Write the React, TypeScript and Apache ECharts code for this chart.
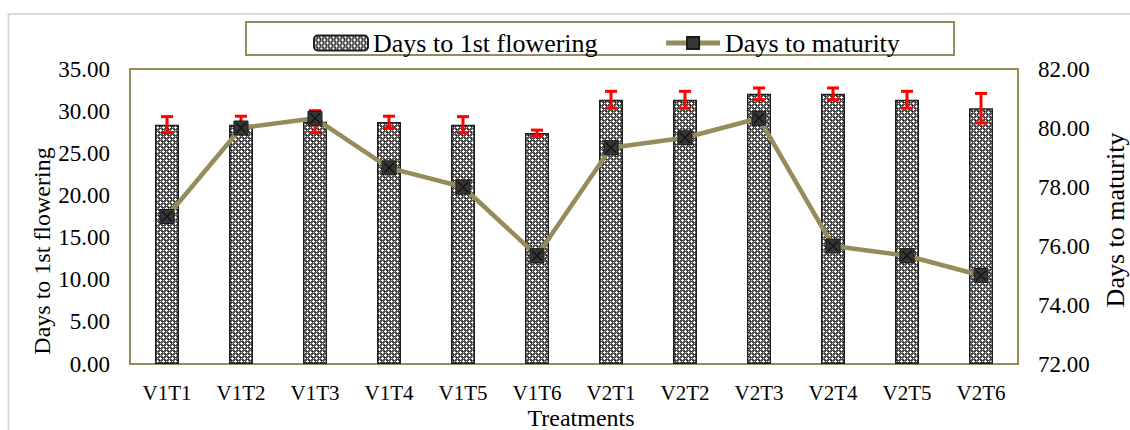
import React, { useEffect, useRef } from "react";
import * as echarts from "echarts";

const categories = ["V1T1", "V1T2", "V1T3", "V1T4", "V1T5", "V1T6", "V2T1", "V2T2", "V2T3", "V2T4", "V2T5", "V2T6"];
const floweringDays = [28.4, 28.4, 28.75, 28.7, 28.4, 27.4, 31.35, 31.35, 32.05, 32.05, 31.35, 30.35];
const floweringErr = [0.95, 1.0, 1.3, 0.7, 0.95, 0.35, 1.0, 1.0, 0.7, 0.7, 1.0, 1.75];
const maturityDays = [77.0, 80.0, 80.33, 78.65, 78.0, 75.67, 79.33, 79.67, 80.33, 76.0, 75.67, 75.0];

const OLIVE = "#958C5A";
const FONT = "Liberation Serif";

function makePattern(): HTMLCanvasElement {
  const c = document.createElement("canvas");
  c.width = 6;
  c.height = 6;
  const ctx = c.getContext("2d")!;
  ctx.fillStyle = "#505050";
  ctx.fillRect(0, 0, 6, 6);
  ctx.fillStyle = "#ffffff";
  const plus = (cx: number, cy: number) => {
    ctx.fillRect(cx, cy, 1, 1);
    ctx.fillRect(cx - 1, cy, 1, 1);
    ctx.fillRect(cx + 1, cy, 1, 1);
    ctx.fillRect(cx, cy - 1, 1, 1);
    ctx.fillRect(cx, cy + 1, 1, 1);
  };
  plus(1, 1);
  plus(4, 4);
  ctx.fillStyle = "#c8c8c8";
  ctx.fillRect(4, 1, 1, 1);
  ctx.fillRect(1, 4, 1, 1);
  ctx.fillStyle = "#1e1e1e";
  ctx.fillRect(0, 3, 1, 1);
  ctx.fillRect(3, 0, 1, 1);
  return c;
}

export default function App() {
  const ref = useRef<HTMLDivElement>(null);
  useEffect(() => {
    if (!ref.current) return;
    const chart = echarts.init(ref.current, null, { renderer: "svg" });
    const pattern = { image: makePattern(), repeat: "repeat" } as any;
    const errData = floweringDays.map((v, i) => [i, v, floweringErr[i]]);
    chart.setOption({
      animation: false,
      backgroundColor: "#ffffff",
      textStyle: { fontFamily: FONT },
      legend: {
        left: 308,
        top: 25,
        itemWidth: 54,
        itemHeight: 15,
        itemGap: 66,
        textStyle: { fontFamily: FONT, fontSize: 26, color: "#000" },
        data: [
          { name: "Days to 1st flowering" },
          { name: "Days to maturity", lineStyle: { width: 5, color: OLIVE } },
        ],
      },
      grid: {
        left: 130,
        right: 112,
        top: 69,
        bottom: 66,
        show: true,
        borderColor: OLIVE,
        borderWidth: 2,
        backgroundColor: "transparent",
      },
      xAxis: {
        type: "category",
        data: categories,
        axisLine: { show: false },
        axisTick: { show: false },
        axisLabel: { fontFamily: FONT, fontSize: 21, color: "#000", margin: 18 },
      },
      yAxis: [
        {
          type: "value",
          min: 0,
          max: 35,
          interval: 5,
          axisLine: { show: false },
          axisTick: { show: false },
          splitLine: { show: false },
          axisLabel: {
            fontFamily: FONT,
            fontSize: 23,
            color: "#000",
            margin: 20,
            formatter: (v: number) => v.toFixed(2),
          },
        },
        {
          type: "value",
          min: 72,
          max: 82,
          interval: 2,
          position: "right",
          axisLine: { show: false },
          axisTick: { show: false },
          splitLine: { show: false },
          axisLabel: {
            fontFamily: FONT,
            fontSize: 23,
            color: "#000",
            margin: 20,
            formatter: (v: number) => v.toFixed(2),
          },
        },
      ],
      graphic: [
        {
          type: "rect",
          shape: { x: 8.5, y: 14, width: 1140, height: 440 },
          style: { fill: "none", stroke: "#D9D9D9", lineWidth: 2 },
          silent: true,
          z: -10,
        },
        {
          type: "rect",
          shape: { x: 246, y: 22, width: 708, height: 33 },
          style: { fill: "none", stroke: OLIVE, lineWidth: 2 },
          silent: true,
        },
        {
          type: "text",
          x: 42,
          y: 251,
          rotation: Math.PI / 2,
          style: {
            text: "Days to 1st flowering",
            fontFamily: FONT,
            fontSize: 24,
            fill: "#000",
            align: "center",
            verticalAlign: "middle",
          },
        },
        {
          type: "text",
          x: 1115,
          y: 220,
          rotation: Math.PI / 2,
          style: {
            text: "Days to maturity",
            fontFamily: FONT,
            fontSize: 26,
            fill: "#000",
            align: "center",
            verticalAlign: "middle",
          },
        },
        {
          type: "text",
          x: 581,
          y: 418,
          style: {
            text: "Treatments",
            fontFamily: FONT,
            fontSize: 24,
            fill: "#000",
            align: "center",
            verticalAlign: "middle",
          },
        },
      ],
      series: [
        {
          name: "Days to 1st flowering",
          type: "bar",
          data: floweringDays,
          barWidth: 24,
          z: 2,
          itemStyle: { color: pattern, borderColor: "#1e1e1e", borderWidth: 1.5 },
        },
        {
          name: "errors",
          type: "custom",
          data: errData,
          z: 3,
          renderItem: (params: any, api: any) => {
            const x = api.value(0);
            const y = api.value(1);
            const e = api.value(2);
            const top = api.coord([x, y + e]);
            const bot = api.coord([x, y - e]);
            const hw = 6;
            const st = { stroke: "#FF0000", lineWidth: 3 };
            return {
              type: "group",
              children: [
                { type: "line", shape: { x1: top[0], y1: top[1], x2: bot[0], y2: bot[1] }, style: st },
                { type: "line", shape: { x1: top[0] - hw, y1: top[1], x2: top[0] + hw, y2: top[1] }, style: st },
                { type: "line", shape: { x1: bot[0] - hw, y1: bot[1], x2: bot[0] + hw, y2: bot[1] }, style: st },
              ],
            };
          },
        },
        {
          name: "Days to maturity",
          type: "line",
          yAxisIndex: 1,
          data: maturityDays,
          z: 4,
          symbol: "rect",
          symbolSize: 14,
          lineStyle: { color: OLIVE, width: 4.5 },
          itemStyle: { color: "#363636", borderColor: "#1a1a1a", borderWidth: 1 },
        },
        {
          name: "markerX",
          type: "scatter",
          yAxisIndex: 1,
          data: maturityDays,
          z: 5,
          symbol: "path://M0,1 L1,0 L10,9 L9,10 Z M9,0 L10,1 L1,10 L0,9 Z",
          symbolSize: 11,
          itemStyle: { color: "#0d0d0d" },
          silent: true,
        },
      ],
    });
    return () => chart.dispose();
  }, []);
  return (
    <div
      ref={ref}
      style={{ position: "absolute", left: 0, top: 0, width: 1130, height: 430 }}
    />
  );
}
